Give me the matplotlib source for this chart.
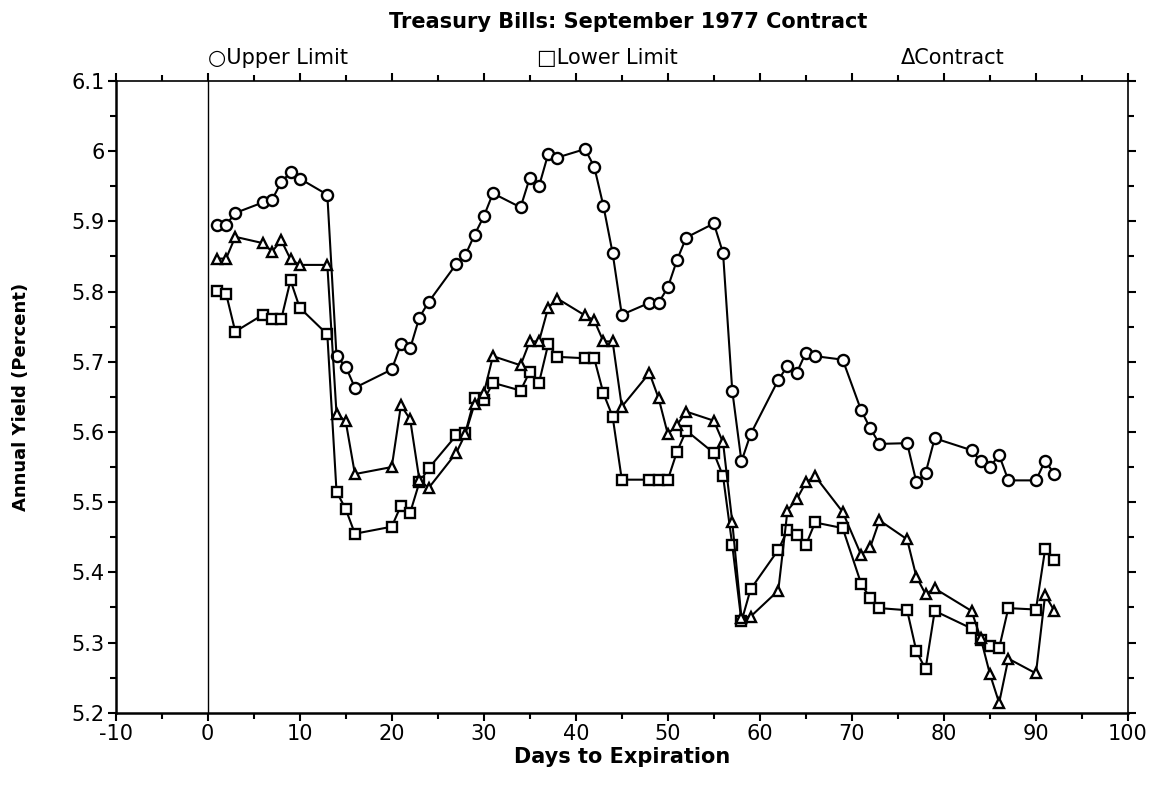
import matplotlib
matplotlib.use("Agg")
import matplotlib.pyplot as plt
from matplotlib.ticker import MultipleLocator

plt.rcParams["axes.unicode_minus"] = False

# days to expiration (same days for all three series)
days = [1, 2, 3, 6, 7, 8, 9, 10, 13, 14, 15, 16, 20, 21, 22, 23, 24, 27, 28, 29, 30, 31,
        34, 35, 36, 37, 38, 41, 42, 43, 44, 45, 48, 49, 50, 51, 52, 55, 56, 57, 58, 59,
        62, 63, 64, 65, 66, 69, 71, 72, 73, 76, 77, 78, 79, 83, 84, 85, 86, 87, 90, 91, 92]

upper_limit = [5.895, 5.895, 5.912, 5.927, 5.931, 5.956, 5.970, 5.961, 5.938,
               5.708, 5.693, 5.663, 5.689, 5.725, 5.719, 5.763, 5.785,
               5.839, 5.852, 5.881, 5.907, 5.940,
               5.920, 5.962, 5.950, 5.996, 5.991,
               6.003, 5.978, 5.922, 5.855, 5.767,
               5.784, 5.784, 5.806, 5.845, 5.877,
               5.897, 5.855, 5.659, 5.558, 5.597,
               5.674, 5.694, 5.684, 5.713, 5.708,
               5.703, 5.631, 5.605, 5.583,
               5.584, 5.529, 5.541, 5.591,
               5.574, 5.558, 5.550, 5.567, 5.531,
               5.531, 5.559, 5.540]

lower_limit = [5.801, 5.797, 5.743, 5.767, 5.761, 5.761, 5.816, 5.777, 5.739,
               5.515, 5.490, 5.455, 5.465, 5.495, 5.485, 5.528, 5.548,
               5.595, 5.599, 5.648, 5.645, 5.670,
               5.659, 5.686, 5.670, 5.725, 5.707,
               5.705, 5.705, 5.655, 5.622, 5.532,
               5.532, 5.532, 5.532, 5.572, 5.602,
               5.570, 5.537, 5.439, 5.330, 5.376,
               5.432, 5.460, 5.453, 5.439, 5.471,
               5.463, 5.384, 5.363, 5.349,
               5.346, 5.288, 5.262, 5.345,
               5.320, 5.304, 5.295, 5.292, 5.349,
               5.347, 5.433, 5.418]

contract = [5.847, 5.847, 5.878, 5.869, 5.857, 5.873, 5.846, 5.838, 5.838,
            5.626, 5.615, 5.540, 5.550, 5.638, 5.618, 5.532, 5.520,
            5.570, 5.597, 5.640, 5.655, 5.708,
            5.695, 5.729, 5.729, 5.777, 5.790,
            5.766, 5.759, 5.729, 5.729, 5.636,
            5.684, 5.648, 5.597, 5.610, 5.629,
            5.616, 5.585, 5.472, 5.335, 5.337,
            5.374, 5.488, 5.504, 5.528, 5.537,
            5.486, 5.425, 5.436, 5.474,
            5.447, 5.394, 5.369, 5.377,
            5.345, 5.306, 5.255, 5.214, 5.277,
            5.256, 5.368, 5.345]

fig = plt.figure(figsize=(11.53, 7.85), dpi=100)
ax = fig.add_axes([0.1003, 0.0921, 0.8780, 0.8047])

line_style = dict(color="black", linewidth=1.5, markerfacecolor="white",
                  markeredgecolor="black", markeredgewidth=1.7)
ax.plot(days, upper_limit, marker="o", markersize=8, zorder=3, **line_style)
ax.plot(days, lower_limit, marker="s", markersize=7.5, zorder=3, **line_style)
ax.plot(days, contract, marker="^", markersize=7.5, zorder=3, **line_style)

# the vertical line at zero
ax.axvline(0, color="black", linewidth=1.0, zorder=1)

ax.set_xlim(-10, 100)
ax.set_ylim(5.2, 6.1)
ax.xaxis.set_major_locator(MultipleLocator(10))
ax.xaxis.set_minor_locator(MultipleLocator(5))
ax.yaxis.set_minor_locator(MultipleLocator(0.05))
ax.set_yticks([5.2, 5.3, 5.4, 5.5, 5.6, 5.7, 5.8, 5.9, 6.0, 6.1])
ax.set_yticklabels(["5.2", "5.3", "5.4", "5.5", "5.6", "5.7", "5.8", "5.9", "6", "6.1"])

for side in ["left", "bottom"]:
    ax.spines[side].set_linewidth(1.8)
for side in ["top", "right"]:
    ax.spines[side].set_linewidth(1.2)

ax.tick_params(axis="both", which="major", direction="out", length=6, width=1.5,
               labelsize=15, pad=2, top=True, right=True)
ax.tick_params(axis="both", which="minor", direction="out", length=4, width=1.5,
               top=True, right=True)

ax.set_xlabel("Days to Expiration", fontsize=15, fontweight="bold", labelpad=2)
ax.set_ylabel("Annual Yield (Percent)", fontsize=13, fontweight="bold")
ax.yaxis.set_label_coords(-0.085, 0.5)

# title and the text legend above the plot
fig.text(0.545, 0.972, "Treasury Bills: September 1977 Contract", ha="center", va="center",
         fontsize=15, fontweight="bold")
fig.text(0.180, 0.926, "\u25cbUpper Limit", ha="left", va="center", fontsize=15)
fig.text(0.466, 0.926, "\u25a1Lower Limit", ha="left", va="center", fontsize=15)
fig.text(0.781, 0.926, "\u0394Contract", ha="left", va="center", fontsize=15)

fig.savefig("out.png", dpi=100)
